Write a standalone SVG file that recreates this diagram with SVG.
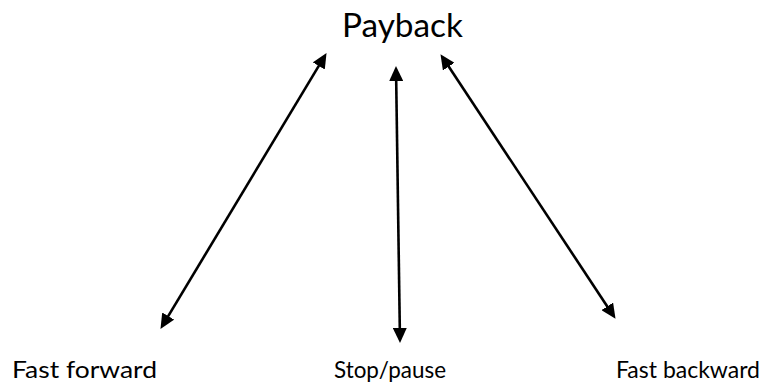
<svg xmlns="http://www.w3.org/2000/svg" width="768" height="389" viewBox="0 0 768 389">
  <style>
    .label { font-family: Lato, "Open Sans", "Liberation Sans", sans-serif; fill: #000; }
    .title { font-size: 33px; }
    .opt { font-size: 24px; }
    .link { stroke: #000; stroke-width: 2.6; fill: none; marker-start: url(#head); marker-end: url(#head); }
  </style>
  <defs>
    <marker id="head" markerUnits="userSpaceOnUse" markerWidth="15" markerHeight="14" refX="7" refY="7" orient="auto-start-reverse" viewBox="0 0 15 14">
      <path d="M0,0 L15,7 L0,14 z" fill="#000"/>
    </marker>
  </defs>

  <g id="payback">
    <text class="label title" x="342" y="37" textLength="121" lengthAdjust="spacingAndGlyphs">Payback</text>
  </g>
  <g id="fast-forward">
    <text class="label opt" x="12" y="378" textLength="145" lengthAdjust="spacingAndGlyphs">Fast forward</text>
  </g>
  <g id="stop-pause">
    <text class="label opt" x="334" y="378" textLength="112" lengthAdjust="spacingAndGlyphs">Stop/pause</text>
  </g>
  <g id="fast-backward">
    <text class="label opt" x="616" y="378" textLength="144" lengthAdjust="spacingAndGlyphs">Fast backward</text>
  </g>

  <g id="connectors">
    <line class="link" x1="164.6" y1="322.1" x2="322.4" y2="59.9"/>
    <line class="link" x1="399.9" y1="335" x2="396.1" y2="74"/>
    <line class="link" x1="611.1" y1="312.2" x2="444.9" y2="60.8"/>
  </g>
</svg>
